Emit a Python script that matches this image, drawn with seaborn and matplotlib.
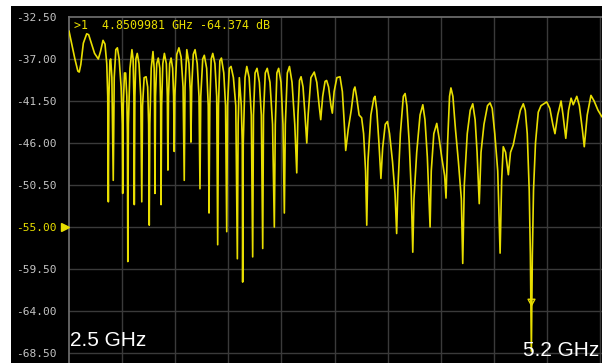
import matplotlib
matplotlib.use("Agg")
import matplotlib.pyplot as plt
import matplotlib.transforms as mtransforms
from matplotlib.patches import Rectangle
import pandas as pd
import seaborn as sns

# ---- trace, in bands (frequency GHz, magnitude dB) ----
freq_a = [2.500, 2.515, 2.530, 2.545, 2.552, 2.560, 2.573, 2.590, 2.600, 2.615,
          2.630, 2.649, 2.660, 2.673, 2.683, 2.692, 2.697, 2.700, 2.703]
db_a = [-34.0, -35.5, -37.0, -38.3, -38.4, -37.6, -35.3, -34.3, -34.4, -35.4,
        -36.4, -37.0, -36.2, -35.0, -35.4, -37.5, -41.0, -52.3, -41.0]

freq_b = [2.708, 2.712, 2.718, 2.725, 2.730, 2.738, 2.746, 2.755, 2.765, 2.771,
          2.773, 2.776, 2.782, 2.788, 2.794, 2.797, 2.799, 2.802, 2.810, 2.820,
          2.826, 2.830, 2.832, 2.835, 2.840, 2.847, 2.856, 2.865, 2.870, 2.874,
          2.882, 2.892, 2.900, 2.905, 2.908, 2.911, 2.918, 2.927, 2.933, 2.935,
          2.937, 2.940, 2.946, 2.954, 2.962, 2.966, 2.968, 2.971, 2.977, 2.985,
          2.995]
db_b = [-37.2, -37.0, -39.0, -50.0, -39.0, -36.0, -35.8, -37.0, -40.0, -44.0,
        -51.4, -42.0, -38.5, -38.5, -41.0, -45.0, -58.7, -44.0, -38.0, -36.0,
        -37.0, -41.0, -52.6, -41.0, -37.0, -36.4, -37.5, -41.0, -52.3, -42.0,
        -39.0, -38.9, -40.0, -44.0, -54.8, -44.0, -38.0, -36.2, -38.0, -42.0,
        -51.4, -41.0, -37.5, -36.9, -38.0, -42.0, -52.6, -42.0, -37.5, -36.4,
        -37.5]

freq_c = [3.000, 3.003, 3.006, 3.012, 3.019, 3.027, 3.032, 3.035, 3.038, 3.048,
          3.059, 3.070, 3.080, 3.086, 3.090, 3.099, 3.110, 3.117, 3.120, 3.124,
          3.132, 3.141, 3.152, 3.161, 3.166, 3.170, 3.180, 3.188, 3.200, 3.208,
          3.212, 3.216, 3.223, 3.231, 3.242, 3.251, 3.256, 3.260, 3.267, 3.275,
          3.287, 3.296, 3.302, 3.306, 3.315, 3.324, 3.336, 3.348, 3.356, 3.360,
          3.366, 3.376, 3.381, 3.383, 3.386, 3.395]
db_c = [-41.0, -48.9, -41.0, -37.5, -36.9, -38.0, -41.0, -46.9, -41.0, -36.5,
        -35.8, -36.8, -40.0, -50.0, -40.0, -36.0, -37.5, -40.5, -45.9, -40.0,
        -36.5, -36.0, -37.5, -41.0, -50.9, -41.0, -37.0, -36.6, -38.0, -42.0,
        -53.5, -42.0, -37.0, -36.4, -37.5, -41.0, -56.9, -42.0, -37.2, -36.9,
        -38.5, -42.0, -55.5, -42.0, -38.0, -37.8, -39.0, -42.0, -58.4, -44.0,
        -39.0, -42.0, -46.0, -60.9, -46.0, -39.0]

freq_d = [3.404, 3.416, 3.427, 3.434, 3.438, 3.446, 3.456, 3.468, 3.478, 3.485,
          3.489, 3.498, 3.508, 3.522, 3.535, 3.544, 3.549, 3.557, 3.566, 3.578,
          3.588, 3.595, 3.600, 3.610, 3.621, 3.634, 3.648, 3.658, 3.664, 3.672,
          3.680, 3.690, 3.700, 3.709, 3.716, 3.730, 3.747, 3.760, 3.772, 3.780,
          3.790, 3.802, 3.810, 3.820, 3.832, 3.839, 3.848, 3.862, 3.878, 3.890,
          3.900]
db_d = [-37.8, -39.0, -43.0, -58.2, -43.0, -38.5, -38.0, -39.5, -43.0, -57.3,
        -43.0, -38.5, -38.0, -39.5, -44.0, -55.0, -44.0, -38.5, -38.0, -39.5,
        -44.0, -53.5, -44.0, -38.5, -37.8, -39.5, -44.0, -49.2, -43.0, -39.3,
        -38.9, -40.0, -43.0, -46.0, -43.0, -39.0, -38.4, -39.5, -42.0, -43.5,
        -41.0, -39.4, -39.3, -40.0, -42.0, -42.8, -40.5, -39.0, -38.9, -40.5,
        -44.0]

freq_e = [3.907, 3.920, 3.935, 3.948, 3.954, 3.962, 3.975, 3.988, 3.998, 4.008,
          4.014, 4.020, 4.035, 4.050, 4.056, 4.065, 4.076, 4.086, 4.095, 4.108,
          4.119, 4.130, 4.145, 4.158, 4.166, 4.172, 4.185, 4.200, 4.209, 4.218,
          4.230, 4.240, 4.248, 4.254, 4.268, 4.285, 4.299, 4.310, 4.322, 4.336,
          4.342, 4.355, 4.370, 4.382, 4.395, 4.410, 4.417, 4.425, 4.435, 4.442,
          4.452, 4.465, 4.480, 4.495]
db_e = [-46.8, -44.5, -42.5, -40.3, -40.0, -41.0, -43.0, -43.3, -45.0, -49.0,
        -54.8, -48.0, -43.0, -41.2, -41.0, -42.5, -46.0, -49.8, -46.5, -44.0,
        -43.7, -45.0, -48.0, -51.5, -55.7, -51.0, -45.0, -41.0, -40.7, -42.0,
        -46.0, -51.0, -57.7, -52.0, -47.0, -43.0, -41.9, -43.5, -47.5, -55.0,
        -49.0, -45.0, -43.9, -45.5, -47.5, -49.5, -51.9, -46.0, -41.0, -40.1,
        -41.0, -44.5, -48.0, -52.0]

freq_f = [4.502, 4.510, 4.525, 4.540, 4.553, 4.565, 4.575, 4.586, 4.595, 4.610,
          4.628, 4.641, 4.652, 4.665, 4.680, 4.692, 4.700, 4.708, 4.720, 4.734,
          4.745, 4.759, 4.775, 4.795, 4.810, 4.820, 4.830, 4.840, 4.846, 4.851,
          4.856, 4.862, 4.872, 4.886, 4.900, 4.915, 4.929, 4.945, 4.960, 4.971,
          4.985, 5.002, 5.012, 5.026, 5.040, 5.053, 5.064, 5.082, 5.095, 5.110,
          5.120, 5.135, 5.154, 5.170, 5.190, 5.210]
db_f = [-58.9, -50.5, -45.0, -42.5, -41.8, -43.5, -47.0, -52.5, -47.0, -44.0,
        -42.0, -41.7, -42.3, -45.0, -49.0, -57.8, -50.0, -46.4, -47.0, -49.4,
        -47.0, -46.2, -44.5, -42.5, -41.8, -42.5, -45.0, -51.0, -58.0, -68.3,
        -58.0, -51.0, -46.0, -42.7, -42.0, -41.8, -41.6, -42.3, -44.0, -45.0,
        -43.0, -41.5, -43.0, -45.5, -42.5, -41.2, -41.9, -41.0, -42.0, -44.5,
        -46.4, -43.0, -40.9, -41.5, -42.5, -43.2]

marker_freq = 4.8509981
marker_db = -64.374
ref_level = -55.00

y_ticks = [-32.5, -37.0, -41.5, -46.0, -50.5, -55.0, -59.5, -64.0, -68.5]
x_start, x_stop = 2.5, 5.2
n_xdiv = 10

label_left = "2.5 GHz"
label_right = "5.2 GHz"

freq_ghz = freq_a + freq_b + freq_c + freq_d + freq_e + freq_f
mag_db = db_a + db_b + db_c + db_d + db_e + db_f
assert len(freq_ghz) == len(mag_db)

# ---- styling ----
W, H = 602, 363
trace_col = "#e8de00"
grid_col = "#3a3a3a"
label_col = "#c4c4c4"

sns.set_theme(style="dark")
plt.rcParams["font.family"] = ["DejaVu Sans"]

fig = plt.figure(figsize=(W / 100, H / 100), dpi=100, facecolor="white")
# black instrument panel (drawn beneath the axes)
fig.patches.append(Rectangle((11 / W, 0), 1 - 11 / W, 1 - 6 / H,
                             transform=fig.transFigure, facecolor="black",
                             edgecolor="none", zorder=-5))

ax_left, ax_right = 69, 602
ax_top, ax_bot = 17, 363
ax = fig.add_axes([ax_left / W, 1 - ax_bot / H, (ax_right - ax_left) / W,
                   (ax_bot - ax_top) / H])
ax.set_facecolor("black")

px_per_ghz = 531 / (x_stop - x_start)
x_max = x_start + (ax_right - ax_left) / px_per_ghz
px_per_db = 42 / 4.5
y_min = y_ticks[0] - (ax_bot - ax_top) / px_per_db

df = pd.DataFrame({"freq": freq_ghz, "db": mag_db})
sns.lineplot(data=df, x="freq", y="db", ax=ax, color=trace_col, linewidth=1.2,
             estimator=None, sort=False, zorder=3)

ax.set_xlim(x_start, x_max)
ax.set_ylim(y_min, y_ticks[0])

# grid
xg = [x_start + i * (x_stop - x_start) / n_xdiv for i in range(n_xdiv + 1)]
for xv in xg[1:]:
    ax.axvline(xv, color=grid_col, linewidth=1.0, zorder=1)
for yv in y_ticks[1:]:
    ax.axhline(yv, color=grid_col, linewidth=1.0, zorder=1)
ax.grid(False)

ax.set_xticks([])
ax.set_yticks(y_ticks)
ax.set_yticklabels([f"{v:.2f}" for v in y_ticks], family="DejaVu Sans Mono",
                   fontsize=8, color=label_col)
ax.tick_params(axis="y", length=0, pad=8.6)
for lbl, v in zip(ax.get_yticklabels(), y_ticks):
    if abs(v - ref_level) < 1e-6:
        lbl.set_color(trace_col)
ax.set_xlabel("")
ax.set_ylabel("")

for s in ["right", "bottom"]:
    ax.spines[s].set_visible(False)
for s in ["top", "left"]:
    ax.spines[s].set_visible(True)
    ax.spines[s].set_color("#6a6a6a")
    ax.spines[s].set_linewidth(1.3)

# reference level arrow at left
trans = mtransforms.blended_transform_factory(ax.transAxes, ax.transData)
ax.plot([-4 / (ax_right - ax_left)], [ref_level], marker=">", markersize=6,
        color=trace_col, transform=trans, clip_on=False, zorder=5)

# marker triangle (tip at the marker point)
tri = [(0, 0), (-0.55, 1), (0.55, 1), (0, 0)]
ax.plot([marker_freq], [marker_db + 1.0], marker=tri, markersize=9,
        markerfacecolor="none", markeredgecolor=trace_col, markeredgewidth=1.0,
        linestyle="none", zorder=6)

# marker readout
fig.text(74 / W, 1 - 29 / H,
         f">1  {marker_freq:.7f} GHz {marker_db:.3f} dB",
         family="DejaVu Sans Mono", fontsize=8.4, color=trace_col,
         ha="left", va="baseline", zorder=10)

# frequency annotations
fig.text(70 / W, 1 - 346 / H, label_left, family="Liberation Sans",
         fontsize=15, color="white", ha="left", va="baseline", zorder=10)
fig.text(599 / W, 1 - 356 / H, label_right, family="Liberation Sans",
         fontsize=15, color="white", ha="right", va="baseline", zorder=10)

fig.savefig("out.png", dpi=100, facecolor="white")
